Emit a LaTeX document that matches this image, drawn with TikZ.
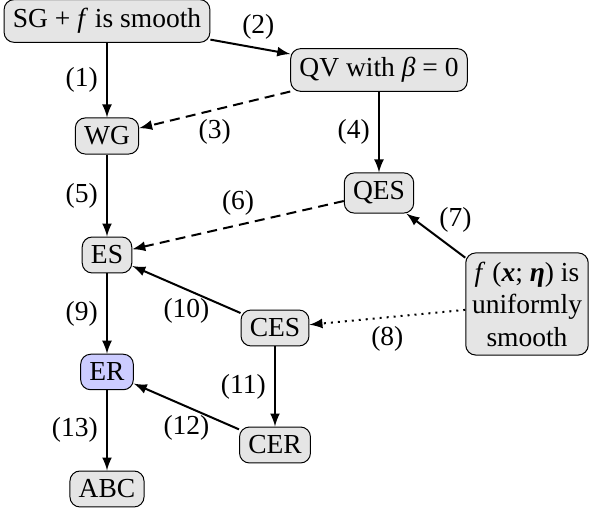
\documentclass[tikz,border=0pt]{standalone}
\usepackage{fontspec}
\setmainfont{Liberation Serif}

\begin{document}
\begin{tikzpicture}[x=0.4pt,y=-0.4pt,
  font=\fontsize{11}{13}\selectfont,
  box/.style={draw, rounded corners=4pt, fill=black!10, inner sep=3.5pt},
  imp/.style={->, >=latex, thick},
  weak/.style={imp, dash pattern=on 4pt off 2.5pt},
  unif/.style={imp, dotted}]

\useasboundingbox (0,0) rectangle (589,511);

\node[box] (sg) at (107,21) {SG + \textit{f} is smooth};
\node[box] (qv) at (379,70) {QV with \textit{β} = 0};
\node[box] (wg) at (107,136) {WG};
\node[box] (qes) at (379,193) {QES};
\node[box] (es) at (107,255) {ES};
\node[box, align=center, inner xsep=2.5pt] (fu) at (527,304) {\textit{f} (\textbf{\textit{x}}; \textbf{\textit{η}}) is\\uniformly\\smooth};
\node[box] (ces) at (275,328) {CES};
\node[box, fill=blue!20] (er) at (107,372) {ER};
\node[box] (cer) at (275,445) {CER};
\node[box] (abc) at (107,489) {ABC};

\draw[imp] (sg) -- node[left]{(1)} (wg);
\draw[imp] (sg) -- node[above, pos=0.6]{(2)} (qv);
\draw[weak] (qv) -- node[below]{(3)} (wg);
\draw[imp] (qv) -- node[left]{(4)} (qes);
\draw[imp] (wg) -- node[left]{(5)} (es);
\draw[weak] (qes) -- node[above]{(6)} (es);
\draw[imp] (fu) -- node[above right, inner sep=1pt]{(7)} (qes);
\draw[unif] (fu) -- node[below]{(8)} (ces);
\draw[imp] (es) -- node[left]{(9)} (er);
\draw[imp] (ces) -- node[below]{(10)} (es);
\draw[imp] (ces) -- node[left]{(11)} (cer);
\draw[imp] (cer) -- node[below]{(12)} (er);
\draw[imp] (er) -- node[left]{(13)} (abc);

\end{tikzpicture}
\end{document}
